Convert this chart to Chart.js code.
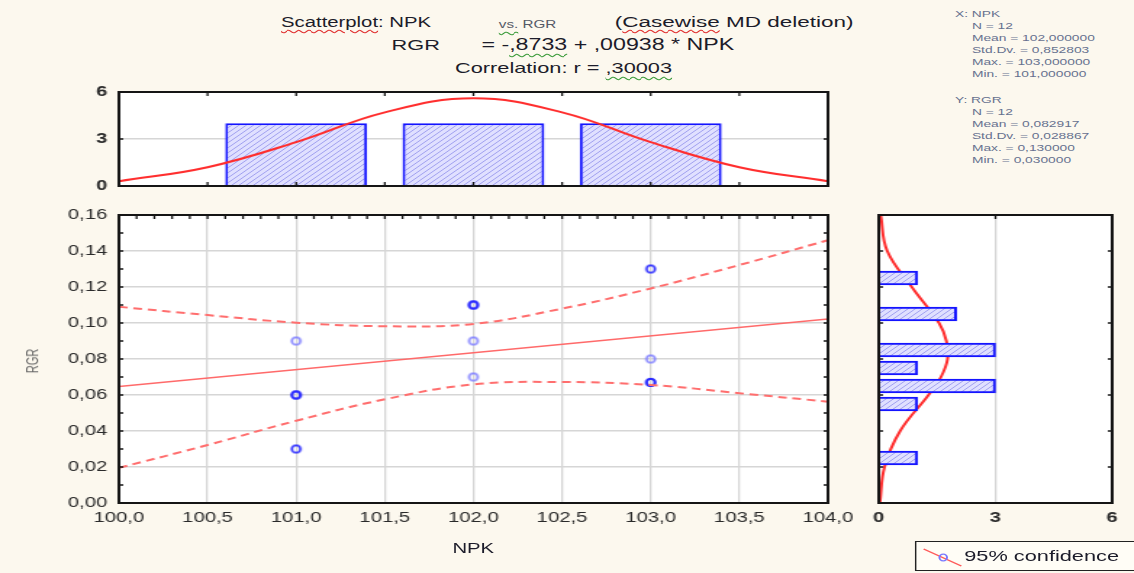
<!DOCTYPE html>
<html>
<head>
<meta charset="utf-8">
<title>Scatterplot: NPK vs. RGR</title>
<script src="https://cdn.jsdelivr.net/npm/chart.js"></script>
<style>
  body { margin: 0; background: #fcf8ee; overflow: hidden; }
  /* laid out narrow, then widened like the exported Statistica graph */
  #page { position: relative; width: 782px; height: 573px; overflow: hidden; background: #fcf8ee;
          transform: scaleX(1.45); transform-origin: 0 0;
          font-family: "Liberation Sans", Arial, sans-serif; }
  canvas { position: absolute; }
  .t { position: absolute; white-space: nowrap; color: #1c1c2a; font-size: 15px; line-height: 18px; }
  .wr { text-decoration: underline wavy #e03030; text-decoration-thickness: 1px; text-underline-offset: 2px; }
  .wg { text-decoration: underline wavy #3c9c3c; text-decoration-thickness: 1px; text-underline-offset: 3px; }
  .stats { position: absolute; font-size: 9.5px; line-height: 12px; color: #66718f; white-space: nowrap; }
  .stats div { padding-left: 11.7px; }
  .stats div.h { padding-left: 0; }
  .stats .wr { text-underline-offset: -2px; }
  #legend { position: absolute; left: 631px; top: 541px; width: 160px; height: 28px; border: 1.5px solid #222;
            background: #fffdf6; font-size: 15px; color: #1c1c2a; }
  #legend svg { position: absolute; left: 3px; top: 2px; }
  #legend span { position: absolute; left: 33px; top: 5px; }
</style>
</head>
<body>
<div id="page">
  <div class="t" style="left:193.8px; top:13px; font-size:14px;"><span class="wr">Scatterplot</span>: NPK</div>
  <div class="t" style="left:344px; top:15px; font-size:10.5px; color:#555a66;"><span class="wg">vs.</span> RGR</div>
  <div class="t" style="left:424px; top:13px; font-size:15.5px;">(<span class="wr">Casewise</span> MD deletion)</div>
  <div class="t" style="left:270px; top:36px;">RGR</div>
  <div class="t" style="left:332px; top:36px; font-size:16px;">= -<span class="wg">,8733</span> + ,00938 * NPK</div>
  <div class="t" style="left:313.8px; top:59px;">Correlation: r = <span class="wg">,30003</span></div>

  <div class="stats" style="left:658.6px; top:8px;">
    <div class="h">X: NPK</div>
    <div>N = 12</div>
    <div>Mean = 102,000000</div>
    <div><span class="wr">Std.Dv.</span> = 0,852803</div>
    <div>Max. = 103,000000</div>
    <div>Min. = 101,000000</div>
  </div>
  <div class="stats" style="left:658.6px; top:94px;">
    <div class="h">Y: RGR</div>
    <div>N = 12</div>
    <div>Mean = 0,082917</div>
    <div><span class="wr">Std.Dv.</span> = 0,028867</div>
    <div>Max. = 0,130000</div>
    <div>Min. = 0,030000</div>
  </div>

  <canvas id="topHist" width="601" height="139" style="left:0; top:70px;"></canvas>
  <canvas id="scatter" width="601" height="347" style="left:0; top:193px;"></canvas>
  <canvas id="sideHist" width="192" height="340" style="left:590px; top:200px;"></canvas>

  <div class="t" style="left:10px; top:352px; font-size:11px; color:#666; transform:rotate(-90deg);">RGR</div>
  <div class="t" style="left:312px; top:539px; font-size:14px;">NPK</div>

  <div id="legend">
    <svg width="30" height="24">
      <line x1="2" y1="5" x2="28" y2="22" stroke="#ff5a5a" stroke-width="1.3"/>
      <ellipse cx="15.5" cy="13.5" rx="2.6" ry="3.4" fill="none" stroke="#7a7aff" stroke-width="1.4"/>
    </svg>
    <span>95% confidence</span>
  </div>
</div>

<script>
// observations
const npk = [101, 101, 101, 101, 102, 102, 102, 102, 103, 103, 103, 103];
const rgr = [0.09, 0.06, 0.06, 0.03, 0.11, 0.11, 0.09, 0.07, 0.13, 0.08, 0.067, 0.067];

// fitted line RGR = a + b * NPK
const fitA = -0.8733;
const fitB = 0.00938;

// 95% confidence band
const bandX = [100, 100.5, 101, 101.5, 102, 102.5, 103, 103.5, 104];
const bandUpper = [0.109, 0.1044, 0.1002, 0.0982, 0.0995, 0.1080, 0.1192, 0.1322, 0.146];
const bandLower = [0.0195, 0.0322, 0.0457, 0.0576, 0.0659, 0.0672, 0.0656, 0.0610, 0.0563];

// NPK histogram (top)
const npkBins = [101, 102, 103];
const npkCounts = [4, 4, 4];
const npkCurveX = [100, 100.5, 101, 101.5, 102, 102.5, 103, 103.5, 104];
const npkCurveN = [0.3, 1.2, 2.8, 4.7, 5.6, 4.7, 2.8, 1.2, 0.3];

// RGR histogram (right)
const rgrBins = [0.025, 0.055, 0.065, 0.075, 0.085, 0.105, 0.125];
const rgrCounts = [1, 1, 3, 1, 3, 2, 1];
const rgrCurveY = [0, 0.02, 0.04, 0.06, 0.07, 0.08, 0.09, 0.10, 0.12, 0.14, 0.16];
const rgrCurveN = [0.03, 0.15, 0.55, 1.28, 1.6, 1.77, 1.74, 1.55, 0.85, 0.22, 0.05];

const comma = (v, d) => v.toFixed(d).replace('.', ',');
const tickFont = { family: '"Liberation Sans", Arial, sans-serif', size: 14 };
const boldFont = { family: '"Liberation Sans", Arial, sans-serif', size: 14, weight: 'bold' };
const tickColor = '#2a2a2a';

// hatched fill for histogram bars
function hatch() {
  const c = document.createElement('canvas');
  c.width = 5; c.height = 5;
  const g = c.getContext('2d');
  g.fillStyle = '#e0e0ff';
  g.fillRect(0, 0, 5, 5);
  g.strokeStyle = '#a0a0f0';
  g.lineWidth = 1;
  g.beginPath();
  g.moveTo(0, 5); g.lineTo(5, 0);
  g.moveTo(-1, 1); g.lineTo(1, -1);
  g.moveTo(4, 6); g.lineTo(6, 4);
  g.stroke();
  return g.createPattern(c, 'repeat');
}
const hatchFill = hatch();

// open ring marker, drawn narrow so it ends up slightly wide after the stretch
function ring(color) {
  const c = document.createElement('canvas');
  c.width = 10; c.height = 11;
  const g = c.getContext('2d');
  g.strokeStyle = color;
  g.lineWidth = 1.7;
  g.beginPath();
  g.ellipse(5, 5.5, 2.9, 3.7, 0, 0, Math.PI * 2);
  g.stroke();
  return c;
}
const ringDark = ring('#2a2aff');
const ringLight = ring('#8585ff');
const ringShade = [ringLight, ringDark, ringDark, ringDark, ringDark, ringDark,
                   ringLight, ringLight, ringDark, ringLight, ringDark, ringDark];

// white plot area, black frame and short inward ticks
const framePlugin = {
  id: 'frame',
  beforeDraw(chart) {
    const { ctx, chartArea: a } = chart;
    ctx.save();
    ctx.fillStyle = '#ffffff';
    ctx.fillRect(a.left, a.top, a.right - a.left, a.bottom - a.top);
    ctx.restore();
  },
  afterDraw(chart, args, opts) {
    const { ctx, chartArea: a, scales } = chart;
    const marks = (scale, step, fn) => {
      if (!step) return;
      const n = Math.round((scale.max - scale.min) / step);
      for (let i = 0; i <= n; i++) fn(scale.getPixelForValue(scale.min + i * step));
    };
    ctx.save();
    ctx.strokeStyle = '#151515';
    ctx.lineWidth = 1.3;
    ctx.beginPath();
    marks(scales.x, opts.top, p => { ctx.moveTo(p, a.top); ctx.lineTo(p, a.top + 4); });
    marks(scales.x, opts.bottom, p => { ctx.moveTo(p, a.bottom); ctx.lineTo(p, a.bottom - 4); });
    marks(scales.y, opts.left, p => { ctx.moveTo(a.left, p); ctx.lineTo(a.left + 3, p); });
    marks(scales.y, opts.right, p => { ctx.moveTo(a.right, p); ctx.lineTo(a.right - 3, p); });
    ctx.stroke();
    ctx.lineWidth = 2;
    ctx.strokeRect(a.left, a.top, a.right - a.left, a.bottom - a.top);
    ctx.restore();
  }
};
Chart.register(framePlugin);
Chart.defaults.animation = false;
Chart.defaults.responsive = false;
Chart.defaults.events = [];
Chart.defaults.plugins.legend.display = false;
Chart.defaults.plugins.tooltip.enabled = false;

// ---------- scatterplot ----------
const pts = npk.map((x, i) => ({ x: x, y: rgr[i] }));
const fitLine = [100, 104].map(x => ({ x: x, y: fitA + fitB * x }));
const upper = bandX.map((x, i) => ({ x: x, y: bandUpper[i] }));
const lower = bandX.map((x, i) => ({ x: x, y: bandLower[i] }));

const bandStyle = {
  showLine: true, pointRadius: 0, borderColor: '#ff6e6e', borderWidth: 2,
  borderDash: [6, 4], tension: 0.4, fill: false
};

new Chart(document.getElementById('scatter'), {
  type: 'scatter',
  data: {
    datasets: [
      { data: upper, ...bandStyle },
      { data: lower, ...bandStyle },
      { data: fitLine, showLine: true, pointRadius: 0, borderColor: '#ff6a6a', borderWidth: 1.5 },
      { data: pts, pointStyle: ringShade, pointRadius: 5 }
    ]
  },
  options: {
    layout: { padding: { top: 22, right: 30, left: 0, bottom: 0 } },
    plugins: { frame: { top: 0.1, left: 0.01, right: 0.01 } },
    scales: {
      x: {
        type: 'linear', min: 100, max: 104,
        afterFit: s => { s.height = 37; },
        grid: { color: '#d6d6d6', lineWidth: 1.3, drawTicks: false },
        border: { display: false },
        ticks: {
          stepSize: 0.5, autoSkip: false, maxRotation: 0, padding: 7,
          color: tickColor, font: tickFont, callback: v => comma(v, 1)
        }
      },
      y: {
        type: 'linear', min: 0, max: 0.16,
        afterFit: s => { s.width = 82; },
        grid: { color: '#d6d6d6', lineWidth: 1.5, drawTicks: false },
        border: { display: false },
        ticks: {
          stepSize: 0.02, autoSkip: false, padding: 8,
          color: tickColor, font: tickFont, callback: v => comma(v, 2)
        }
      }
    }
  }
});

// ---------- NPK histogram ----------
new Chart(document.getElementById('topHist'), {
  type: 'bar',
  data: {
    datasets: [
      {
        type: 'line', xAxisID: 'xc', data: npkCurveX.map((x, i) => ({ x: x, y: npkCurveN[i] })),
        borderColor: '#ff2e2e', borderWidth: 2, pointRadius: 0, tension: 0.4
      },
      {
        data: npkBins.map((x, i) => ({ x: x, y: npkCounts[i] })),
        backgroundColor: hatchFill, borderColor: '#1414ff', borderWidth: 2,
        grouped: false, barPercentage: 1, categoryPercentage: 0.8
      }
    ]
  },
  options: {
    layout: { padding: { top: 22, right: 30, left: 0, bottom: 0 } },
    plugins: { frame: { top: 0.5, bottom: 0.5, left: 3, right: 3 } },
    scales: {
      x: {
        type: 'linear', min: 100, max: 104, offset: false,
        afterFit: s => { s.height = 23; },
        grid: { display: false }, border: { display: false },
        ticks: { display: false, stepSize: 1 }
      },
      xc: {
        type: 'linear', position: 'top', min: 100, max: 104, offset: false, display: false
      },
      y: {
        type: 'linear', min: 0, max: 6,
        afterFit: s => { s.width = 82; },
        grid: { drawTicks: false, lineWidth: 1.5, color: c => c.tick.value === 3 ? '#d6d6d6' : 'rgba(0,0,0,0)' },
        border: { display: false },
        ticks: { stepSize: 3, padding: 8, color: tickColor, font: boldFont }
      }
    }
  }
});

// ---------- RGR histogram ----------
new Chart(document.getElementById('sideHist'), {
  type: 'bar',
  data: {
    datasets: [
      {
        data: rgrBins.map((y, i) => ({ x: rgrCounts[i], y: y })),
        backgroundColor: hatchFill, borderColor: '#1414ff', borderWidth: 2,
        grouped: false, barThickness: 14
      },
      {
        type: 'line', data: rgrCurveY.map((y, i) => ({ x: rgrCurveN[i], y: y })),
        borderColor: '#ff2e2e', borderWidth: 2, pointRadius: 0, tension: 0.4
      }
    ]
  },
  options: {
    indexAxis: 'y',
    layout: { padding: { top: 15, right: 15, left: 0, bottom: 0 } },
    plugins: { frame: { top: 3, left: 0.02, right: 0.02 } },
    scales: {
      x: {
        type: 'linear', min: 0, max: 6,
        afterFit: s => { s.height = 37; },
        grid: { drawTicks: false, lineWidth: 1.3, color: c => c.tick.value === 3 ? '#d6d6d6' : 'rgba(0,0,0,0)' },
        border: { display: false },
        ticks: { stepSize: 3, padding: 7, color: tickColor, font: boldFont }
      },
      y: {
        type: 'linear', min: 0, max: 0.16, offset: false,
        afterFit: s => { s.width = 16; },
        grid: { display: false }, border: { display: false },
        ticks: { display: false }
      }
    }
  }
});
</script>
</body>
</html>
